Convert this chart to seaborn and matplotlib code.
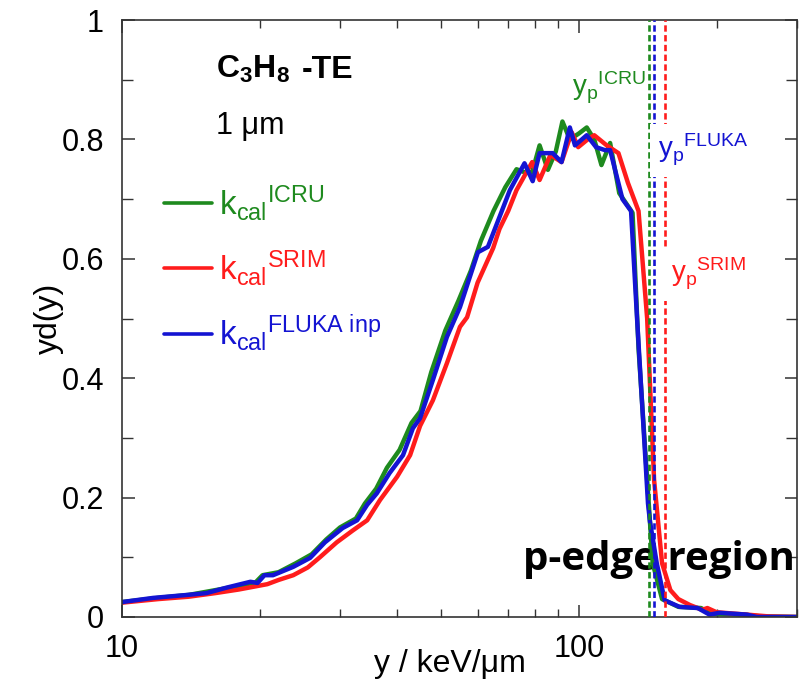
import numpy as np
import pandas as pd
import matplotlib
matplotlib.use("Agg")
import matplotlib.pyplot as plt
import seaborn as sns

# ---------------- data ----------------
x_icru = [10, 12, 14, 16, 18, 19.6, 20.3, 22, 24, 26, 28, 30, 32.5, 34, 36, 38, 40.5, 43, 45,
          47.5, 51, 54.5, 58, 61, 65, 69, 73, 76, 79, 82, 85.5, 89, 92, 95.5, 100, 104, 108,
          112, 117, 122.5, 131, 135, 141, 145, 152, 165, 185, 195, 230, 250, 300]
y_icru = [0.025, 0.032, 0.037, 0.045, 0.052, 0.058, 0.070, 0.075, 0.090, 0.105, 0.130, 0.150,
          0.165, 0.190, 0.215, 0.250, 0.280, 0.325, 0.345, 0.410, 0.480, 0.530, 0.580, 0.630,
          0.680, 0.720, 0.750, 0.745, 0.745, 0.790, 0.749, 0.780, 0.830, 0.800, 0.810, 0.820,
          0.800, 0.757, 0.794, 0.710, 0.677, 0.450, 0.230, 0.090, 0.030, 0.017, 0.015, 0.005,
          0.004, 0.001, 0.0]

x_srim = [10, 12, 14, 16, 18, 20.8, 22, 23.7, 25.5, 27.1, 29.5, 32, 34.4, 36.7, 40, 42.7, 44.9,
          47.9, 51.4, 54.9, 56.9, 60, 64.9, 67, 70, 73, 79, 82, 86.6, 91.6, 96.4, 99.6, 104.5,
          108, 115, 122, 128, 135, 141, 146, 152, 158.5, 165, 175, 186, 191, 200, 233, 260, 300]
y_srim = [0.024, 0.030, 0.034, 0.040, 0.046, 0.055, 0.062, 0.070, 0.083, 0.100, 0.125, 0.145,
          0.162, 0.196, 0.235, 0.271, 0.320, 0.363, 0.425, 0.486, 0.502, 0.560, 0.618, 0.650,
          0.680, 0.715, 0.762, 0.732, 0.774, 0.762, 0.812, 0.787, 0.800, 0.807, 0.790, 0.777,
          0.727, 0.680, 0.500, 0.230, 0.090, 0.045, 0.030, 0.020, 0.012, 0.015, 0.008, 0.004,
          0.001, 0.0]

x_fluka = [10, 11.7, 13.9, 15.3, 16.9, 19.1, 19.8, 20.5, 21.4, 23.7, 25.8, 27.8, 30.4, 32.7,
           34.4, 36.1, 38.5, 41.2, 43.3, 44.9, 47.9, 51.4, 54.9, 60.1, 63.2, 67, 70.6, 76,
           79.2, 82, 87.6, 91.6, 95.5, 98, 104, 109, 114, 117, 124.5, 130, 134, 141.6, 143,
           148, 154, 166, 182, 193, 203, 233, 245, 300]
y_fluka = [0.025, 0.032, 0.037, 0.040, 0.049, 0.059, 0.057, 0.070, 0.070, 0.084, 0.099, 0.125,
           0.149, 0.162, 0.188, 0.207, 0.241, 0.271, 0.316, 0.333, 0.397, 0.469, 0.519, 0.611,
           0.620, 0.670, 0.715, 0.760, 0.730, 0.777, 0.777, 0.762, 0.820, 0.790, 0.807, 0.787,
           0.782, 0.782, 0.700, 0.680, 0.500, 0.190, 0.160, 0.090, 0.028, 0.017, 0.015, 0.004,
           0.007, 0.004, 0.0, 0.0]

series_names = ["ICRU", "SRIM", "FLUKA inp"]
series_colors = ["#1e8a1e", "#ff1c1c", "#1414d2"]
yp_values = [142, 146, 154]          # ICRU, FLUKA, SRIM p-edge positions
yp_colors = ["#1e8a1e", "#1414d2", "#ff1c1c"]

x_ticks = [10, 100]
x_ticklabels = ["10", "100"]
y_ticks = [0, 0.2, 0.4, 0.6, 0.8, 1]
y_ticklabels = ["0", "0.2", "0.4", "0.6", "0.8", "1"]

df = pd.concat([
    pd.DataFrame({"y": x_icru, "yd": y_icru, "series": "ICRU"}),
    pd.DataFrame({"y": x_srim, "yd": y_srim, "series": "SRIM"}),
    pd.DataFrame({"y": x_fluka, "yd": y_fluka, "series": "FLUKA inp"}),
], ignore_index=True)

# ---------------- style ----------------
sns.set_style("ticks")
plt.rcParams["font.family"] = ["Liberation Sans", "DejaVu Sans"]
plt.rcParams["mathtext.fontset"] = "custom"
plt.rcParams["mathtext.rm"] = "Liberation Sans"
plt.rcParams["mathtext.it"] = "Liberation Sans:italic"
plt.rcParams["mathtext.bf"] = "Liberation Sans:bold"
for k in ["text.color", "axes.labelcolor", "xtick.labelcolor", "ytick.labelcolor"]:
    plt.rcParams[k] = "black"

W, H = 801, 686
fig = plt.figure(figsize=(W / 100, H / 100), dpi=100)
ax = fig.add_axes([122 / W, 1 - 617 / H, (797 - 122) / W, (617 - 20) / H])


def fx(px):
    return px / W


def fy(py):
    return 1 - py / H


sns.lineplot(data=df, x="y", y="yd", hue="series", hue_order=series_names,
             palette=dict(zip(series_names, series_colors)), estimator=None,
             sort=False, legend=False, lw=3.2, ax=ax)

for xv, c in zip(yp_values, yp_colors):
    ax.axvline(xv, color=c, lw=1.9, ls=(0, (2.4, 1.3)), zorder=5)

ax.set_xscale("log")
ax.set_xlim(10, 300)
ax.set_ylim(0, 1)
ax.set_xticks(x_ticks)
ax.set_xticklabels(x_ticklabels)
ax.set_yticks(y_ticks)
ax.set_yticklabels(y_ticklabels)
ax.yaxis.set_minor_locator(matplotlib.ticker.MultipleLocator(0.1))
ax.tick_params(which="both", direction="in", top=True, right=True, color="#333333",
               labelsize=22)
ax.tick_params(axis="y", which="both", pad=13)
ax.tick_params(axis="x", which="both", pad=12)
ax.tick_params(which="major", length=9, width=1.1)
ax.tick_params(which="minor", length=6, width=1.0)
ax.tick_params(axis="y", which="minor", length=8)
for s in ax.spines.values():
    s.set_color("#333333")
    s.set_linewidth(1.2)

ax.set_xlabel("y / keV/μm", fontsize=23)
ax.xaxis.set_label_coords((450 - 122) / 675, (617 - 649) / 597)
ax.set_ylabel("yd(y)", fontsize=23)
ax.yaxis.set_label_coords((64 - 122) / 675, 0.5)

# title texts
fig.text(fx(216), fy(78), r"$\mathbf{C_3H_8}$", fontsize=23, ha="left", va="baseline")
fig.text(fx(302), fy(78), "-TE", fontsize=23, fontweight="bold", ha="left", va="baseline")
fig.text(fx(216), fy(134), "1 μm", fontsize=22, ha="left", va="baseline")

# legend
leg_labels = [r"$\mathregular{k_{cal}{}^{ICRU}}$", r"$\mathregular{k_{cal}{}^{SRIM}}$",
              r"$\mathregular{k_{cal}{}^{FLUKA\ inp}}$"]
leg = ax.legend(handles=ax.lines[:3], labels=leg_labels, loc="upper left",
                bbox_to_anchor=(fx(134), fy(153)), bbox_transform=fig.transFigure,
                frameon=False, fontsize=24, handlelength=1.45, handletextpad=0.2,
                labelspacing=0.75, labelcolor="linecolor")
for h in leg.legend_handles:
    h.set_linewidth(2.6)

# p-edge labels
fig.text(fx(572), fy(96), r"$\mathregular{y_p{}^{ICRU}}$", color=yp_colors[0], fontsize=20,
         ha="left", va="baseline", zorder=6)
fig.text(fx(658), fy(158), r"$\mathregular{y_p{}^{FLUKA}}$", color=yp_colors[1], fontsize=20,
         ha="left", va="baseline", zorder=6,
         bbox=dict(fc="white", ec="none", pad=6))
fig.text(fx(671), fy(282), r"$\mathregular{y_p{}^{SRIM}}$", color=yp_colors[2], fontsize=20,
         ha="left", va="baseline", zorder=6,
         bbox=dict(fc="white", ec="none", pad=6))

ax.text(fx(795), fy(570), "p-edge region", transform=fig.transFigure, fontsize=29,
        fontweight="bold", color="black", family=["Open Sans", "DejaVu Sans"], ha="right",
        va="baseline", zorder=1)

fig.savefig("out.png", dpi=100)
